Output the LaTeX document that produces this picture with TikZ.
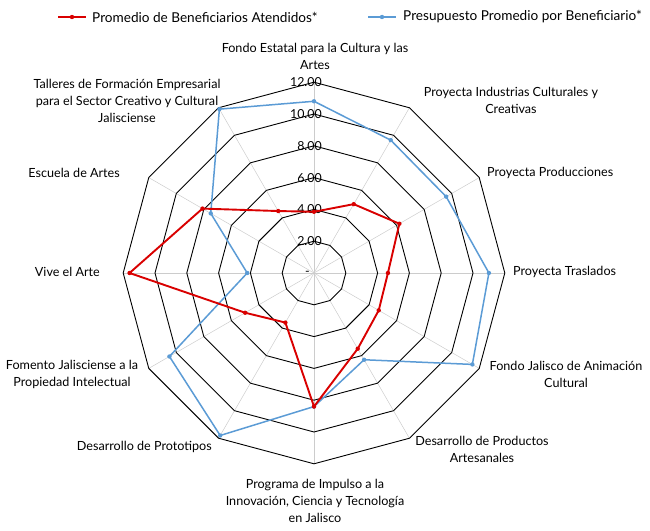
\documentclass[tikz,border=0pt]{standalone}
\usepackage{fontspec}
\setmainfont{Lato}
\usetikzlibrary{calc}
\begin{document}
\begin{tikzpicture}[x=1pt,y=1pt,
  lbl/.style={font=\fontsize{12.6}{17}\selectfont,align=center,inner sep=0pt},
  leg/.style={font=\fontsize{13.6}{17}\selectfont,inner sep=0pt,anchor=west},
  tick/.style={font=\fontsize{12.4}{13}\selectfont,inner sep=0pt,anchor=east},
  ring/.style={black,line width=0.9pt},
  spoke/.style={gray!40,line width=0.5pt},
  redser/.style={red!85!black,line width=1.9pt,line join=round},
  blueser/.style={color={rgb,255:red,91;green,155;blue,213},line width=1.5pt,line join=round}]
\useasboundingbox (0,0) rectangle (650,530);
\coordinate (C) at (314,257);
\def\u{15.9}
% spokes
\foreach \i in {0,...,11}{\draw[spoke] (C) -- ++({90-30*\i}:{12*\u});}
% rings
\foreach \k in {2,4,...,12}{
  \draw[ring] ($(C)+(90:{\k*\u})$) \foreach \i in {1,...,11}{ -- ($(C)+({90-30*\i}:{\k*\u})$)} -- cycle;
}
% tick labels
\foreach \k in {2,4,...,12}{\node[tick] (t\k) at ($(C)+(8,{\k*\u})$) {\k.00};}
\node[tick] (t0) at ($(C)+(-4,0)$) {-};
% data
\def\redvals{{3.85,5.0,6.2,4.65,4.7,5.5,8.4,3.6,5.0,11.6,8.1,4.5}}
\def\bluevals{{10.8,9.65,9.6,11.0,11.5,6.3,8.4,11.8,10.5,4.2,7.5,11.9}}
\foreach \i in {0,...,11}{
  \pgfmathsetmacro{\rv}{\redvals[\i]}
  \pgfmathsetmacro{\bv}{\bluevals[\i]}
  \coordinate (r\i) at ($(C)+({90-30*\i}:{\rv*\u})$);
  \coordinate (b\i) at ($(C)+({90-30*\i}:{\bv*\u})$);
}
\draw[blueser] (b0) -- (b1) -- (b2) -- (b3) -- (b4) -- (b5) -- (b6) -- (b7) -- (b8) -- (b9) -- (b10) -- (b11) -- cycle;
\foreach \i in {0,...,11}{\fill[blueser] (b\i) circle (2.2);}
\draw[redser] (r0) -- (r1) -- (r2) -- (r3) -- (r4) -- (r5) -- (r6) -- (r7) -- (r8) -- (r9) -- (r10) -- (r11) -- cycle;
\foreach \i in {0,...,11}{\fill[redser] (r\i) circle (2.2);}
% axis labels
\node[lbl] (l0) at (315,474) {Fondo Estatal para la Cultura y las\\Artes};
\node[lbl] (l1) at (511,430) {Proyecta Industrias Culturales y\\Creativas};
\node[lbl,anchor=west] (l2) at (487,357) {Proyecta Producciones};
\node[lbl,anchor=west] (l3) at (513,258) {Proyecta Traslados};
\node[lbl] (l4) at (566,156) {Fondo Jalisco de Animación\\Cultural};
\node[lbl] (l5) at (482,81) {Desarrollo de Productos\\Artesanales};
\node[lbl] (l6) at (315,29) {Programa de Impulso a la\\Innovación, Ciencia y Tecnología\\en Jalisco};
\node[lbl,anchor=east] (l7) at (212,83) {Desarrollo de Prototipos};
\node[lbl] (l8) at (72,156) {Fomento Jalisciense a la\\Propiedad Intelectual};
\node[lbl,anchor=east] (l9) at (100,258) {Vive el Arte};
\node[lbl,anchor=east] (l10) at (120,357) {Escuela de Artes};
\node[lbl] (l11) at (127,429) {Talleres de Formación Empresarial\\para el Sector Creativo y Cultural\\Jalisciense};
% legend
\coordinate (la) at (58,513); \coordinate (lb) at (86,513);
\draw[redser] (la) -- (lb); \fill[redser] ($(la)!0.5!(lb)$) circle (2.2);
\node[leg] (lg1) at (92,513) {Promedio de Beneficiarios Atendidos*};
\coordinate (lc) at (368,513); \coordinate (ld) at (396,513);
\draw[blueser] (lc) -- (ld); \fill[blueser] ($(lc)!0.5!(ld)$) circle (2.2);
\node[leg] (lg2) at (403,513) {Presupuesto Promedio por Beneficiario*};
\end{tikzpicture}
\end{document}
